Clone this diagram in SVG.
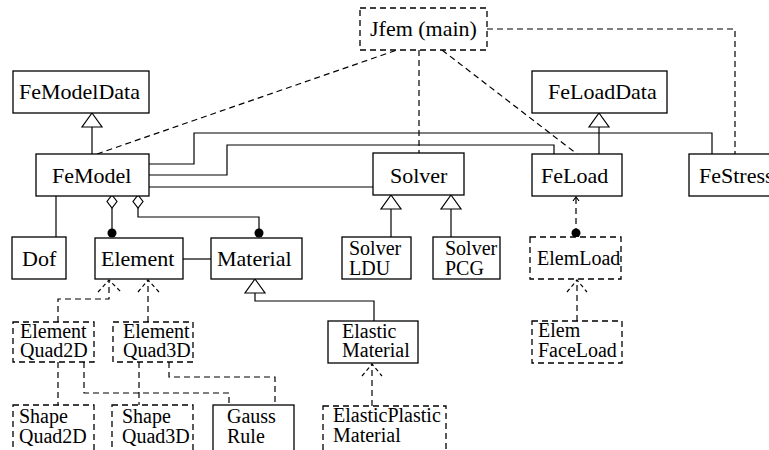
<svg xmlns="http://www.w3.org/2000/svg" width="769" height="450" viewBox="0 0 769 450">
<style>
.box{fill:#fff;stroke:#000;stroke-width:1.3}
.dbox{fill:#fff;stroke:#000;stroke-width:1.3;stroke-dasharray:6,4}
.ln{fill:none;stroke:#000;stroke-width:1.2}
.dl{fill:none;stroke:#000;stroke-width:1.2;stroke-dasharray:6,4}
.da{fill:none;stroke:#000;stroke-width:1.2;stroke-dasharray:4,3}
.tri{fill:#fff;stroke:#000;stroke-width:1.2}
.dot{fill:#000}
text{font-family:"Liberation Serif","Times New Roman",serif;fill:#000}
.t22{font-size:22px}
.t20{font-size:20px}
</style>
<rect width="769" height="450" fill="#fff"/>
<g id="connectors">
<path class="dl" d="M97,154 L397,50"/>
<path class="dl" d="M419,50 L419,153"/>
<path class="dl" d="M442,50 L577,154"/>
<path class="dl" d="M487,29 L735,29 L735,154"/>
<path class="ln" d="M149,164 L194,164 L194,133 L712,133 L712,154"/>
<path class="ln" d="M149,175 L227,175 L227,145 L554,145 L554,154"/>
<path class="ln" d="M149,187 L373,187"/>
<path class="ln" d="M92,127 L92,154"/>
<polygon class="tri" points="92,113 102,127 82,127"/>
<path class="ln" d="M599,127 L599,154"/>
<polygon class="tri" points="599,113 609,127 589,127"/>
<path class="ln" d="M56,195 L56,237"/>
<polygon class="tri" points="112,195 117,201.5 112,208 107,201.5"/>
<path class="ln" d="M112,208 L112,233"/>
<circle class="dot" cx="112" cy="233" r="4.5"/>
<polygon class="tri" points="138,195 143,201.5 138,208 133,201.5"/>
<path class="ln" d="M138,208 L138,217 L259,217 L259,233"/>
<circle class="dot" cx="259" cy="233" r="4.5"/>
<path class="ln" d="M183,259 L211,259"/>
<path class="ln" d="M391,209 L391,237"/>
<polygon class="tri" points="391,195 401,209 381,209"/>
<path class="ln" d="M451,209 L451,237"/>
<polygon class="tri" points="451,195 461,209 441,209"/>
<path class="ln" d="M255,293 L255,301 L374,301 L374,321"/>
<polygon class="tri" points="255,279 265,293 245,293"/>
<path class="dl" d="M58,322 L58,299 L109,299 L109,281"/>
<path class="da" d="M98,292 L109,280 L121,292"/>
<path class="dl" d="M148,322 L148,281"/>
<path class="da" d="M138,292 L148,280 L159,292"/>
<path class="dl" d="M576,198 L576,233"/>
<path class="ln" d="M573,201 L576,197 L579,201"/>
<circle class="dot" cx="576" cy="233" r="4.5"/>
<path class="dl" d="M577,321 L577,281"/>
<path class="da" d="M567,292 L577,280 L587,292"/>
<path class="dl" d="M372,406 L372,365"/>
<path class="da" d="M362,376 L372,364 L382,376"/>
<path class="dl" d="M58,362 L58,405"/>
<path class="dl" d="M84,362 L84,393 L229,393 L229,405"/>
<path class="dl" d="M139,362 L139,405"/>
<path class="dl" d="M169,362 L169,377 L275,377 L275,405"/>
</g>
<g id="Jfem"><rect class="dbox" x="360" y="8" width="127" height="42"/><text class="t22" x="370" y="36">Jfem (main)</text></g>
<g id="FeModelData"><rect class="box" x="13" y="71" width="136" height="42"/><text class="t22" x="19" y="99">FeModelData</text></g>
<g id="FeLoadData"><rect class="box" x="532" y="71" width="135" height="42"/><text class="t22" x="548" y="99">FeLoadData</text></g>
<g id="FeModel"><rect class="box" x="36" y="154" width="113" height="42"/><text class="t22" x="52" y="183">FeModel</text></g>
<g id="Solver"><rect class="box" x="373" y="153" width="91" height="42"/><text class="t22" x="390" y="183">Solver</text></g>
<g id="FeLoad"><rect class="box" x="532" y="154" width="90" height="42"/><text class="t22" x="541" y="183">FeLoad</text></g>
<g id="FeStress"><rect class="box" x="689" y="154" width="100" height="42"/><text class="t22" x="699" y="183">FeStress</text></g>
<g id="Dof"><rect class="box" x="12" y="237" width="54" height="42"/><text class="t22" x="22" y="266">Dof</text></g>
<g id="Element"><rect class="box" x="95" y="238" width="88" height="41"/><text class="t22" x="101" y="266">Element</text></g>
<g id="Material"><rect class="box" x="211" y="238" width="91" height="41"/><text class="t22" x="217" y="266">Material</text></g>
<g id="SolverLDU"><rect class="box" x="342" y="237" width="69" height="42"/><text class="t20" x="349" y="255">Solver</text><text class="t20" x="349" y="275">LDU</text></g>
<g id="SolverPCG"><rect class="box" x="433" y="237" width="67" height="42"/><text class="t20" x="445" y="255">Solver</text><text class="t20" x="445" y="275">PCG</text></g>
<g id="ElemLoad"><rect class="dbox" x="530" y="237" width="91" height="42"/><text class="t20" x="537" y="265">ElemLoad</text></g>
<g id="ElementQuad2D"><rect class="dbox" x="13" y="322" width="81" height="40"/><text class="t20" x="20" y="338">Element</text><text class="t20" x="20" y="357">Quad2D</text></g>
<g id="ElementQuad3D"><rect class="dbox" x="113" y="322" width="80" height="40"/><text class="t20" x="123" y="338">Element</text><text class="t20" x="123" y="357">Quad3D</text></g>
<g id="ElasticMaterial"><rect class="box" x="328" y="321" width="90" height="42"/><text class="t20" x="342" y="338">Elastic</text><text class="t20" x="342" y="357">Material</text></g>
<g id="ElemFaceLoad"><rect class="dbox" x="532" y="321" width="90" height="42"/><text class="t20" x="538" y="337">Elem</text><text class="t20" x="538" y="357">FaceLoad</text></g>
<g id="ShapeQuad2D"><rect class="dbox" x="13" y="405" width="81" height="50"/><text class="t20" x="19" y="423">Shape</text><text class="t20" x="19" y="443">Quad2D</text></g>
<g id="ShapeQuad3D"><rect class="dbox" x="112" y="405" width="81" height="50"/><text class="t20" x="122" y="423">Shape</text><text class="t20" x="122" y="443">Quad3D</text></g>
<g id="GaussRule"><rect class="box" x="213" y="405" width="81" height="50"/><text class="t20" x="227" y="423">Gauss</text><text class="t20" x="227" y="443">Rule</text></g>
<g id="ElasticPlasticMaterial"><rect class="dbox" x="323" y="406" width="123" height="49"/><text class="t20" x="333" y="422">ElasticPlastic</text><text class="t20" x="333" y="442">Material</text></g>
</svg>
